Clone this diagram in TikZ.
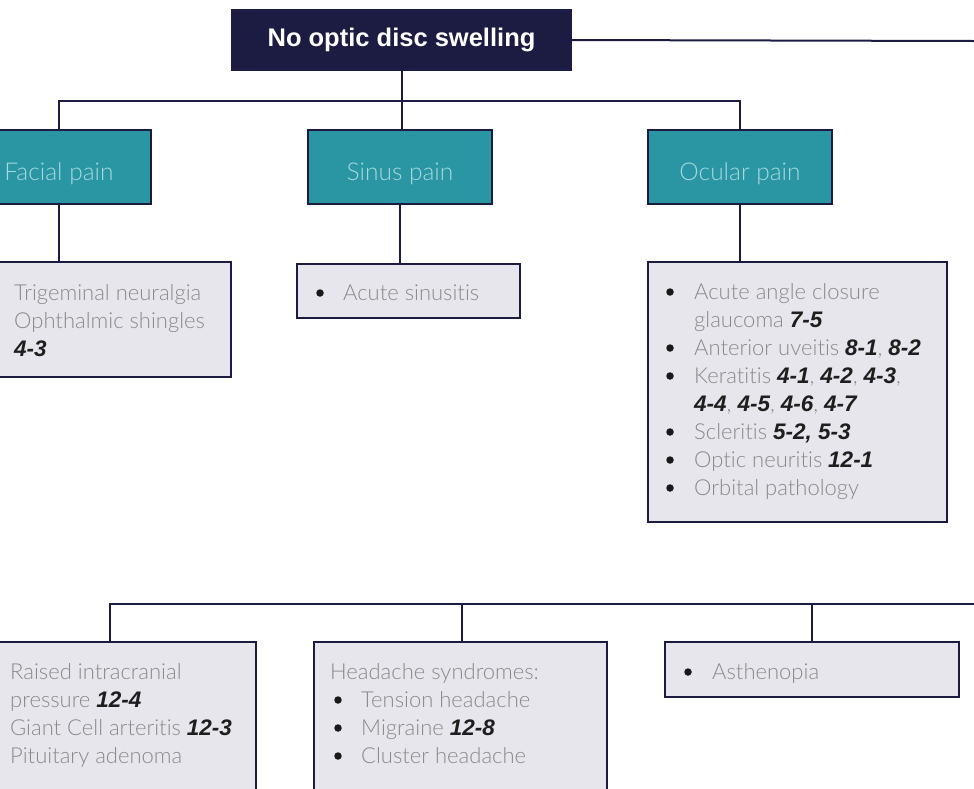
\documentclass[tikz,border=0pt]{standalone}
\usepackage{fontspec}
\setmainfont{Liberation Sans}
\newfontfamily\lightfont{Lato Light}[Ligatures=NoCommon]
\newfontfamily\hdfont{Liberation Sans}
\definecolor{navy}{HTML}{1C1B42}
\definecolor{tealc}{HTML}{2A95A3}
\definecolor{tealtxt}{HTML}{A6D8DD}
\definecolor{boxgray}{HTML}{E7E6EC}
\definecolor{txtgray}{HTML}{8A8A8A}
\definecolor{refblack}{HTML}{1E1E1E}
\newcommand\rf[1]{{\color{refblack}\hdfont\bfseries\itshape\fontsize{22.5}{28}\selectfont #1}}
\newcommand\bitem[5]{%
  \node[bul] (#1-b) at (#2,#4-7) {};
  \node[ln] (#1) at (#3,#4) {#5};}
\tikzset{
  hdbox/.style={draw=navy, fill=navy, line width=2pt, minimum width=339pt, minimum height=60pt,
    inner sep=0pt, outer sep=0pt, anchor=north west, text=white,
    font=\hdfont\bfseries\fontsize{25.5}{30}\selectfont},
  catbox/.style={draw=navy, fill=tealc, line width=2pt, minimum width=184pt, minimum height=74pt,
    anchor=north west, inner sep=0pt, outer sep=0pt, text=tealtxt, text height=26pt, text depth=0pt,
    font=\lightfont\fontsize{24.5}{28}\selectfont},
  listbox/.style={draw=navy, fill=boxgray, line width=2pt, anchor=north west, inner sep=0pt, outer sep=0pt},
  ln/.style={anchor=base west, inner sep=0pt, text=txtgray, font=\lightfont\fontsize{22}{28}\selectfont},
  bul/.style={circle, fill=black!90, inner sep=0pt, minimum size=7.5pt},
  conn/.style={draw=navy, line width=2pt}
}
\begin{document}
\begin{tikzpicture}[x=1pt,y=-1pt]
\useasboundingbox (0,0) rectangle (974,788);
\clip (0,0) rectangle (974,788);
\fill[white] (0,0) rectangle (974,788);
% coordinates for free ends
\coordinate (topright) at (974,41);
\coordinate (j1) at (401,101);
\coordinate (botright) at (974,604);
% boxes
\node[hdbox] (top) at (232,10) {No optic disc swelling};
\node[catbox] (facial) at (-33,130) {Facial pain};
\node[catbox] (sinus) at (308,130) {Sinus pain};
\node[catbox] (ocular) at (648,130) {Ocular pain};
\node[listbox, minimum width=241pt, minimum height=115pt] (fbox) at (-10,262) {};
\node[listbox, minimum width=223pt, minimum height=54pt] (sbox) at (297,264) {};
\node[listbox, minimum width=299pt, minimum height=260pt] (obox) at (648,262) {};
\node[listbox, minimum width=266pt, minimum height=200pt] (b1) at (-10,642) {};
\node[listbox, minimum width=293pt, minimum height=200pt] (b2) at (314,642) {};
\node[listbox, minimum width=294pt, minimum height=55pt] (b3) at (665,642) {};
% connectors
\draw[conn] (top.east) -- (topright);
\draw[conn] (top.south) -- (top.south |- sinus.north);
\draw[conn] (facial.north) |- (j1) -| (ocular.north);
\draw[conn] (facial.south) -- (facial.south |- fbox.north);
\draw[conn] (sinus.south) -- (sinus.south |- sbox.north);
\draw[conn] (ocular.south) -- (ocular.south |- obox.north);
\coordinate (b1top) at (110,642);
\coordinate (b2top) at (462,642);
\draw[conn] (b1top) |- (botright);
\draw[conn] (b2top) -- (b2top |- botright);
\draw[conn] (b3.north) -- (b3.north |- botright);
% facial list
\node[ln] (f1) at (14,300) {Trigeminal neuralgia};
\node[ln] (f2) at (14,328) {Ophthalmic shingles};
\node[ln] (f3) at (14,356) {\rf{4-3}};
% sinus list
\bitem{s1}{320}{343}{300}{Acute sinusitis}
% ocular list
\bitem{o1}{670}{694}{299}{Acute angle closure}
\node[ln] (o1c) at (694,327) {glaucoma \rf{7-5}};
\bitem{o2}{670}{694}{355}{Anterior uveitis \rf{8-1}, \rf{8-2}}
\bitem{o3}{670}{694}{383}{Keratitis \rf{4-1}, \rf{4-2}, \rf{4-3},}
\node[ln] (o3c) at (694,411) {\rf{4-4}, \rf{4-5}, \rf{4-6}, \rf{4-7}};
\bitem{o4}{670}{694}{439}{Scleritis \rf{5-2, 5-3}}
\bitem{o5}{670}{694}{467}{Optic neuritis \rf{12-1}}
\bitem{o6}{670}{694}{495}{Orbital pathology}
% bottom box 1
\node[ln] (r1) at (10,679) {Raised intracranial};
\node[ln] (r2) at (10,707) {pressure \rf{12-4}};
\node[ln] (r3) at (10,735) {Giant Cell arteritis \rf{12-3}};
\node[ln] (r4) at (10,763) {Pituitary adenoma};
% bottom box 2
\node[ln] (h0) at (330,679) {Headache syndromes:};
\bitem{h1}{338}{361}{707}{Tension headache}
\bitem{h2}{338}{361}{735}{Migraine \rf{12-8}}
\bitem{h3}{338}{361}{763}{Cluster headache}
% bottom box 3
\bitem{a1}{688}{712}{679}{Asthenopia}
\end{tikzpicture}
\end{document}
